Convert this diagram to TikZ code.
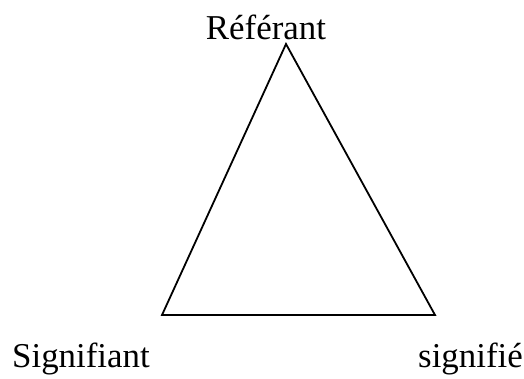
\documentclass[tikz,border=0pt]{standalone}
\usepackage{fontspec}
\setmainfont{Liberation Serif}
\begin{document}
\begin{tikzpicture}[x=1bp,y=-1bp,
  lbl/.style={inner sep=0pt,anchor=base,font=\fontsize{35}{40}\selectfont},
  edge/.style={line width=1.8bp,line join=miter}]
\useasboundingbox (0,0) rectangle (524,378);
\coordinate (A) at (286,44);
\coordinate (B) at (162,315);
\coordinate (C) at (435,315);
\draw[edge] (B) -- (A) -- (C) -- cycle;
\node[lbl] (ref) at (266,39) {Référant};
\node[lbl,anchor=base west] (sig) at (12,367) {Signifiant};
\node[lbl,anchor=base east] (sie) at (523,367) {signifié};
\end{tikzpicture}
\end{document}
